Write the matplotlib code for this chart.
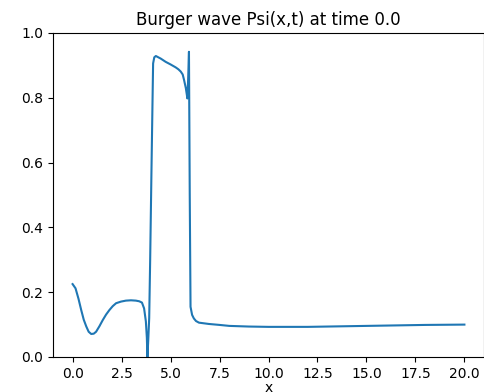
import matplotlib
matplotlib.use("Agg")
import matplotlib.pyplot as plt
import numpy as np

# wave profile
x_vals = [0.0, 0.15, 0.3, 0.44, 0.57, 0.7, 0.82, 0.95, 1.08, 1.2, 1.37, 1.54, 1.71, 1.88,
          2.05, 2.22, 2.47, 2.72, 2.98, 3.23, 3.4, 3.54, 3.65, 3.74, 3.79, 3.82, 3.86,
          3.91, 3.96, 4.02, 4.08, 4.11, 4.17, 4.25, 4.5, 4.75, 5.0, 5.26, 5.4, 5.52,
          5.62, 5.69, 5.78, 5.86, 5.9, 5.94, 5.98, 6.02, 6.1, 6.19, 6.3, 6.45, 6.7,
          6.95, 7.5, 8.0, 9.0, 10.0, 11.0, 12.0, 14.0, 16.0, 18.0, 20.0]
psi_vals = [0.225, 0.212, 0.18, 0.145, 0.115, 0.094, 0.078, 0.071, 0.072, 0.078, 0.095, 0.114,
            0.131, 0.145, 0.157, 0.166, 0.171, 0.174, 0.175, 0.174, 0.172, 0.168, 0.15,
            0.11, 0.06, 0.0, 0.05, 0.12, 0.3, 0.55, 0.79, 0.906, 0.925, 0.929, 0.921, 0.911,
            0.903, 0.894, 0.888, 0.881, 0.872, 0.855, 0.83, 0.798, 0.86, 0.942, 0.5,
            0.155, 0.13, 0.119, 0.111, 0.106, 0.104, 0.102, 0.099, 0.096, 0.094, 0.093,
            0.093, 0.093, 0.095, 0.097, 0.099, 0.1]
t = 0.0

fig = plt.figure(figsize=(4.85, 3.92), dpi=100)
ax = fig.add_axes([53 / 485, 35 / 392, 431 / 485, 324 / 392])
ax.plot(x_vals, psi_vals)
ax.set_xlim(-1, 21)
ax.set_ylim(0, 1)
ax.set_xticks(np.arange(0, 20.1, 2.5))
ax.set_title('Burger wave Psi(x,t) at time {}'.format(t))
ax.set_xlabel('x', labelpad=0)
fig.savefig('out.png', dpi=100)
